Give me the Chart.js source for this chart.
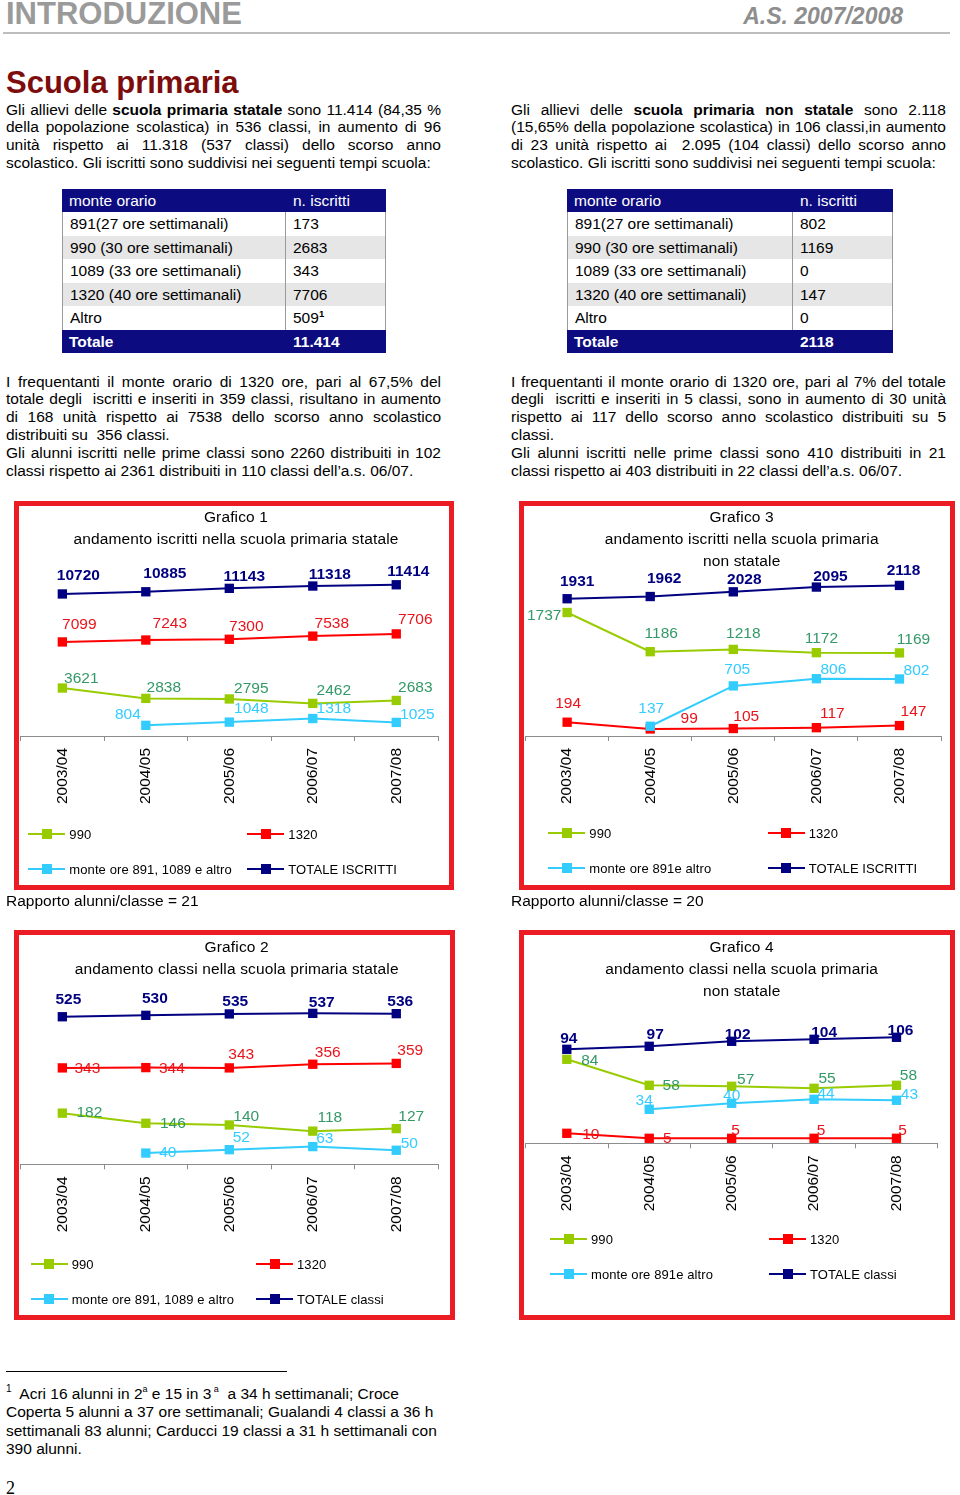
<!DOCTYPE html>
<html><head><meta charset="utf-8">
<script src="https://cdn.jsdelivr.net/npm/chart.js@4.4.1/dist/chart.umd.min.js"></script>
<style>
html,body{margin:0;padding:0;background:#fff;}
#page{position:relative;width:960px;height:1495px;overflow:hidden;font-family:"Liberation Sans",Arial,Helvetica,sans-serif;color:#000;}
.a{position:absolute;white-space:nowrap;}
.para{position:absolute;width:435px;font-size:15.5px;line-height:17.85px;}
.para div{text-align:justify;text-align-last:justify;}
.para div.l{text-align:left;text-align-last:left;}
.tbl{position:absolute;font-size:15.5px;}
.row{position:absolute;left:0;height:23.55px;line-height:23.55px;}
.cell{position:absolute;top:0;height:100%;box-sizing:border-box;padding-left:7px;white-space:nowrap;}
.box{position:absolute;box-sizing:border-box;border:5px solid #ec1c24;pointer-events:none;}
.ttl{position:absolute;width:420px;text-align:center;font-size:15.5px;line-height:22.2px;letter-spacing:0.15px;}
.lg{position:absolute;height:18px;display:flex;align-items:center;font-size:13px;letter-spacing:0.1px;white-space:nowrap;}
.mk{position:relative;width:37px;height:18px;margin-right:4px;flex:none;}
.mk::before{content:'';position:absolute;left:0;right:0;top:8px;height:2px;background:var(--c);}
.mk::after{content:'';position:absolute;left:13.5px;top:4px;width:10px;height:10px;background:var(--c);}
.sup{display:inline-block;line-height:0;position:relative;top:-7px;}
canvas{position:absolute;}
</style></head>
<body><div id="page">

<div class="a" style="left:6px;top:-2.5px;font-size:31px;line-height:31px;font-weight:bold;color:#9a9a9a;">INTRODUZIONE</div>
<div class="a" style="right:57px;top:4.5px;font-size:23px;line-height:23px;font-weight:bold;font-style:italic;color:#8e8e8e;">A.S. 2007/2008</div>
<div class="a" style="left:3px;top:31.5px;width:947px;height:2px;background:#bdbdbd;"></div>

<div class="a" style="left:6px;top:66.5px;font-size:31px;line-height:31px;font-weight:bold;color:#7d0c0c;">Scuola primaria</div>

<div class="para" style="left:6px;top:100.5px;">
<div>Gli allievi delle <b>scuola primaria statale</b> sono 11.414 (84,35 %</div>
<div>della popolazione scolastica) in 536 classi, in aumento di 96</div>
<div>unità rispetto ai 11.318 (537 classi) dello scorso anno</div>
<div class="l">scolastico. Gli iscritti sono suddivisi nei seguenti tempi scuola:</div>
</div>
<div class="para" style="left:511px;top:100.5px;">
<div>Gli allievi delle <b>scuola primaria non statale</b> sono 2.118</div>
<div>(15,65% della popolazione scolastica) in 106 classi,in aumento</div>
<div>di 23 unità rispetto ai &nbsp;2.095 (104 classi) dello scorso anno</div>
<div class="l">scolastico. Gli iscritti sono suddivisi nei seguenti tempi scuola:</div>
</div>

<div id="tblL" class="tbl" style="left:62px;top:188.5px;"></div>
<div id="tblR" class="tbl" style="left:567px;top:188.5px;"></div>

<div class="para" style="left:6px;top:372.5px;">
<div>I frequentanti il monte orario di 1320 ore, pari al 67,5% del</div>
<div>totale degli &nbsp;iscritti e inseriti in 359 classi, risultano in aumento</div>
<div>di 168 unità rispetto ai 7538 dello scorso anno scolastico</div>
<div class="l">distribuiti su &nbsp;356 classi.</div>
<div>Gli alunni iscritti nelle prime classi sono 2260 distribuiti in 102</div>
<div class="l">classi rispetto ai 2361 distribuiti in 110 classi dell’a.s. 06/07.</div>
</div>
<div class="para" style="left:511px;top:372.5px;">
<div>I frequentanti il monte orario di 1320 ore, pari al 7% del totale</div>
<div>degli &nbsp;iscritti e inseriti in 5 classi, sono in aumento di 30 unità</div>
<div>rispetto ai 117 dello scorso anno scolastico distribuiti su 5</div>
<div class="l">classi.</div>
<div>Gli alunni iscritti nelle prime classi sono 410 distribuiti in 21</div>
<div class="l">classi rispetto ai 403 distribuiti in 22 classi dell’a.s. 06/07.</div>
</div>

<canvas id="c1" width="440" height="389" style="left:14px;top:501px;"></canvas>
<canvas id="c3" width="436" height="389" style="left:519px;top:501px;"></canvas>
<canvas id="c2" width="441" height="390" style="left:14px;top:930px;"></canvas>
<canvas id="c4" width="436" height="390" style="left:519px;top:930px;"></canvas>

<div class="box" style="left:14px;top:501px;width:440px;height:389px;"></div>
<div class="box" style="left:519px;top:501px;width:436px;height:389px;"></div>
<div class="box" style="left:14px;top:930px;width:441px;height:390px;"></div>
<div class="box" style="left:519px;top:930px;width:436px;height:390px;"></div>

<div class="ttl" style="left:26px;top:505.6px;">Grafico 1<br>andamento iscritti nella scuola primaria statale</div>
<div class="ttl" style="left:531.7px;top:505.6px;">Grafico 3<br>andamento iscritti nella scuola primaria<br>non statale</div>
<div class="ttl" style="left:26.7px;top:935.6px;">Grafico 2<br>andamento classi nella scuola primaria statale</div>
<div class="ttl" style="left:531.7px;top:935.6px;">Grafico 4<br>andamento classi nella scuola primaria<br>non statale</div>

<div id="legends"></div>

<div class="a" style="left:6px;top:892px;font-size:15.5px;line-height:17.85px;">Rapporto alunni/classe = 21</div>
<div class="a" style="left:511px;top:892px;font-size:15.5px;line-height:17.85px;">Rapporto alunni/classe = 20</div>

<div class="a" style="left:6px;top:1371px;width:281px;height:1px;background:#000;"></div>
<div class="a" style="left:6px;top:1385px;font-size:15.5px;line-height:18.3px;white-space:normal;width:445px;">
<div><span class="sup" style="font-size:10px;">1</span>&nbsp; Acri 16 alunni in 2<span class="sup" style="font-size:9px;">a</span> e 15 in 3<span class="sup" style="font-size:9px;">&nbsp;a</span>&nbsp; a 34 h settimanali; Croce</div>
<div>Coperta 5 alunni a 37 ore settimanali; Gualandi 4 classi a 36 h</div>
<div>settimanali 83 alunni; Carducci 19 classi a 31 h settimanali con</div>
<div>390 alunni.</div>
</div>
<div class="a" style="left:6px;top:1479px;font-family:'Liberation Serif','Times New Roman',serif;font-size:18px;line-height:18px;">2</div>

</div>
<script>
// ---------- DATA ----------
const categories = ['2003/04', '2004/05', '2005/06', '2006/07', '2007/08'];

const seriesLabelsIscritti1 = ['990', '1320', 'monte ore 891, 1089 e altro', 'TOTALE ISCRITTI'];
const seriesLabelsIscritti3 = ['990', '1320', 'monte ore 891e altro', 'TOTALE ISCRITTI'];
const seriesLabelsClassi2 = ['990', '1320', 'monte ore 891, 1089 e altro', 'TOTALE classi'];
const seriesLabelsClassi4 = ['990', '1320', 'monte ore 891e altro', 'TOTALE classi'];

// Grafico 1 - iscritti scuola primaria statale
const g1_990 = [3621, 2838, 2795, 2462, 2683];
const g1_1320 = [7099, 7243, 7300, 7538, 7706];
const g1_altro = [null, 804, 1048, 1318, 1025];
const g1_totale = [10720, 10885, 11143, 11318, 11414];

// Grafico 2 - classi scuola primaria statale
const g2_990 = [182, 146, 140, 118, 127];
const g2_1320 = [343, 344, 343, 356, 359];
const g2_altro = [null, 40, 52, 63, 50];
const g2_totale = [525, 530, 535, 537, 536];

// Grafico 3 - iscritti scuola primaria non statale
const g3_990 = [1737, 1186, 1218, 1172, 1169];
const g3_1320 = [194, 99, 105, 117, 147];
const g3_altro = [null, 137, 705, 806, 802];
const g3_totale = [1931, 1962, 2028, 2095, 2118];

// Grafico 4 - classi scuola primaria non statale
const g4_990 = [84, 58, 57, 55, 58];
const g4_1320 = [10, 5, 5, 5, 5];
const g4_altro = [null, 34, 40, 44, 43];
const g4_totale = [94, 97, 102, 104, 106];

// Tabelle
const tableHeader = ['monte orario', 'n. iscritti'];
const tableRows = ['891(27 ore settimanali)', '990 (30 ore settimanali)', '1089 (33 ore settimanali)', '1320 (40 ore settimanali)', 'Altro'];
const tableStatale = ['173', '2683', '343', '7706', '509'];
const tableNonStatale = ['802', '1169', '0', '147', '0'];
const totaleLabel = 'Totale';
const totaleStatale = '11.414';
const totaleNonStatale = '2118';

// ---------- STYLE ----------
const FONT = '"Liberation Sans", Arial, Helvetica, sans-serif';
const NAVY = '#000080', RED = '#ff0000', GREEN = '#99cc00', CYAN = '#33ccff';
const LBL = {green: '#339966', red: '#e8141b', cyan: '#33ccff', navy: NAVY};

// label offsets (dx, dy from point), per series: 990, 1320, altro, totale
const off1 = [
  [[19,-9],[18,-11],[22,-10],[21,-13],[19,-13]],
  [[17,-17],[24,-16],[17,-13],[19,-12],[19,-14]],
  [null,[-18,-11],[22,-13],[21,-10],[21,-8]],
  [[16,-18],[19,-18],[15,-12],[17,-11],[12,-13]]
];
const off3 = [
  [[-23,3],[11,-18],[10,-16],[5,-14],[14,-13]],
  [[1,-18],[39,-10],[13,-12],[16,-14],[14,-14]],
  [null,[1,-18],[4,-16],[17,-9],[17,-8]],
  [[10,-17],[14,-18],[11,-12],[14,-10],[4,-15]]
];
const off2 = [
  [[27,0],[27,0],[17,-8],[17,-13],[15,-12]],
  [[25,1],[26,1],[12,-13],[15,-12],[14,-13]],
  [null,[22,0],[12,-12],[12,-8],[13,-7]],
  [[6,-17],[9,-17],[6,-12],[9,-11],[4,-12]]
];
const off4 = [
  [[23,1],[22,0],[14,-7],[13,-10],[12,-10]],
  [[24,1],[18,0],[4,-8],[7,-8],[6,-8]],
  [null,[-5,-9],[0,-8],[12,-6],[13,-6]],
  [[2,-11],[6,-12],[6,-7],[10,-7],[4,-7]]
];

// ---------- TABLES ----------
function buildTable(id, values, total, c1w, c2w) {
  const el = document.getElementById(id);
  const W = c1w + c2w;
  const RH = 23.55;
  let html = '';
  const mk = (i, bg, a, b, color, bold, sep) => {
    return '<div class="row" style="top:' + (i*RH) + 'px;width:' + W + 'px;background:' + bg + ';color:' + color + ';font-weight:' + (bold?'bold':'normal') + ';">' +
      '<div class="cell" style="left:0;width:' + c1w + 'px;' + (sep ? 'border-left:1px solid #9a9a9a;border-right:1px solid #9a9a9a;' : '') + '">' + a + '</div>' +
      '<div class="cell" style="left:' + c1w + 'px;width:' + c2w + 'px;' + (sep ? 'border-right:1px solid #9a9a9a;' : '') + '">' + b + '</div></div>';
  };
  html += mk(0, '#0c0c80', tableHeader[0], tableHeader[1], '#fff', false, false);
  tableRows.forEach((r, i) => {
    let v = values[i];
    if (id === 'tblL' && i === 4) v += '<span class="sup" style="font-size:9.5px;font-weight:bold;top:-6px;">1</span>';
    html += mk(i+1, i % 2 === 1 ? '#e6e6e6' : '#fff', r, v, '#000', false, true);
  });
  html += mk(6, '#0c0c80', totaleLabel, total, '#fff', true, false);
  el.innerHTML = html;
}
buildTable('tblL', tableStatale, totaleStatale, 224, 100);
buildTable('tblR', tableNonStatale, totaleNonStatale, 226, 100);

// ---------- LEGENDS ----------
function legend(labels, colors, cols, rows) {
  const host = document.getElementById('legends');
  labels.forEach((t, i) => {
    const d = document.createElement('div');
    d.className = 'lg';
    d.style.left = cols[i % 2] + 'px';
    d.style.top = (rows[Math.floor(i / 2)] - 9) + 'px';
    d.innerHTML = '<span class="mk" style="--c:' + colors[i] + '"></span><span>' + t + '</span>';
    host.appendChild(d);
  });
}
const legendColors = [GREEN, RED, CYAN, NAVY];
legend(seriesLabelsIscritti1, legendColors, [28.3, 247.3], [834.3, 869.3]);
legend(seriesLabelsIscritti3, legendColors, [548.3, 767.7], [833.3, 868.3]);
legend(seriesLabelsClassi2, legendColors, [30.7, 256], [1264, 1299]);
legend(seriesLabelsClassi4, legendColors, [550, 769], [1239, 1274]);

// ---------- CHARTS ----------
Chart.defaults.font.family = FONT;

const pointLabels = {
  id: 'pointLabels',
  afterDatasetsDraw(chart, args, opts) {
    const ctx = chart.ctx;
    ctx.save();
    ctx.textAlign = 'center';
    ctx.textBaseline = 'middle';
    chart.data.datasets.forEach((ds, i) => {
      const st = opts.series[i];
      const meta = chart.getDatasetMeta(i);
      ctx.fillStyle = st.color;
      ctx.font = (st.bold ? 'bold ' : '') + '15.5px ' + FONT;
      meta.data.forEach((pt, j) => {
        const v = ds.data[j];
        if (v === null || v === undefined) return;
        const o = st.offsets[j] || [0, 0];
        ctx.fillText(String(v), pt.x + o[0], pt.y + o[1]);
      });
    });
    ctx.restore();
  }
};

function build(id, labels, data, yMax, pad, axisH, offs) {
  const colors = [GREEN, RED, CYAN, NAVY];
  const lblColors = [LBL.green, LBL.red, LBL.cyan, LBL.navy];
  const orders = [3, 2, 0, 1];
  new Chart(document.getElementById(id), {
    type: 'line',
    data: {
      labels: categories,
      datasets: data.map((d, i) => ({
        label: labels[i],
        data: d,
        borderColor: colors[i],
        backgroundColor: colors[i],
        pointBackgroundColor: colors[i],
        pointBorderColor: colors[i],
        borderWidth: 2,
        pointStyle: 'rect',
        pointRadius: 6.6,
        pointBorderWidth: 0,
        tension: 0,
        fill: false,
        clip: false,
        order: orders[i]
      }))
    },
    options: {
      responsive: false,
      animation: false,
      events: [],
      layout: {padding: pad},
      plugins: {
        legend: {display: false},
        title: {display: false},
        tooltip: {enabled: false},
        pointLabels: {
          series: data.map((d, i) => ({color: lblColors[i], bold: i === 3, offsets: offs[i]}))
        }
      },
      scales: {
        x: {
          offset: true,
          grid: {offset: true, drawOnChartArea: false, drawTicks: true, tickLength: 5, color: '#8c8c8c', lineWidth: 1},
          border: {display: true, color: '#8c8c8c', width: 1},
          ticks: {minRotation: 90, maxRotation: 90, padding: 7, color: '#000', font: {size: 15.5, family: FONT}},
          afterFit(scale) { scale.height = axisH; }
        },
        y: {display: false, min: 0, max: yMax}
      }
    },
    plugins: [pointLabels]
  });
}

build('c1', seriesLabelsIscritti1, [g1_990, g1_1320, g1_altro, g1_totale], 12000, {left: 3, right: 16, top: 76, bottom: 0}, 154, off1);
build('c3', seriesLabelsIscritti3, [g3_990, g3_1320, g3_altro, g3_totale], 2200, {left: 2, right: 14, top: 78.6, bottom: 0}, 154, off3);
build('c2', seriesLabelsClassi2, [g2_990, g2_1320, g2_altro, g2_totale], 560, {left: 3, right: 17, top: 76.9, bottom: 0}, 155.7, off2);
build('c4', seriesLabelsClassi4, [g4_990, g4_1320, g4_altro, g4_totale], 120, {left: 2, right: 17.3, top: 93.3, bottom: 0}, 176.7, off4);
</script>
</body></html>
